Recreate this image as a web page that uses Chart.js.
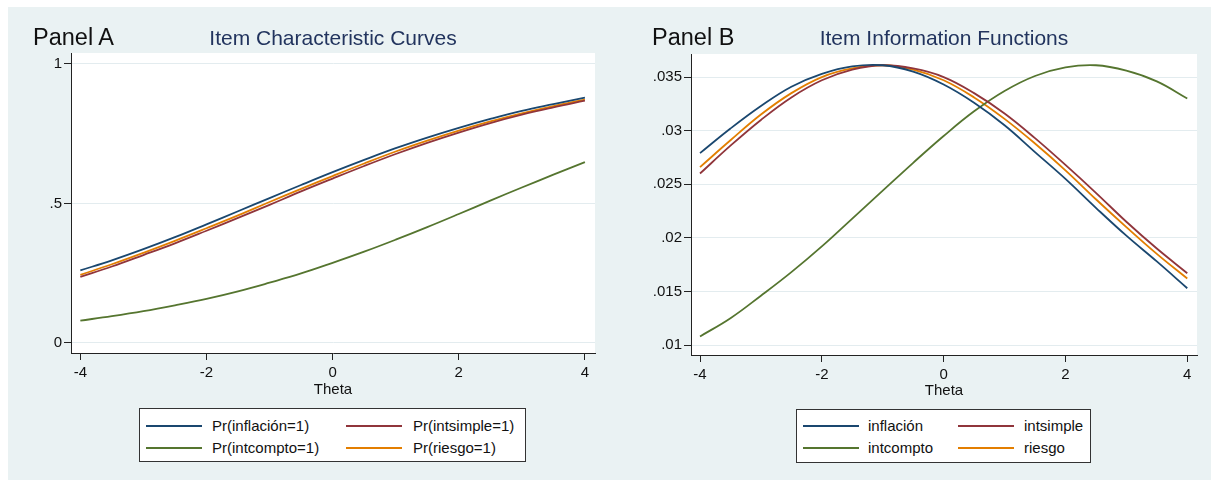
<!DOCTYPE html>
<html>
<head>
<meta charset="utf-8">
<script src="https://cdn.jsdelivr.net/npm/chart.js@4"></script>
<style>
  body { margin:0; background:#fff; font-family:"Liberation Sans", Arial, sans-serif; width:1211px; height:480px; overflow:hidden; }
  #page { position:absolute; left:8px; top:7px; width:1203px; height:473px; background:#EAF2F3; }
  canvas { position:absolute; top:0; }
  .ptitle { position:absolute; font-size:23.5px; color:#111; line-height:26px; white-space:nowrap; }
  .stitle { position:absolute; font-size:21px; color:#22345E; line-height:24px; white-space:nowrap; transform:translateX(-50%); }
  .legend { position:absolute; background:#fff; border:1px solid #333; box-sizing:border-box; }
  .legend span { position:absolute; font-size:15px; line-height:18px; color:#111; white-space:nowrap; }
  .legend i { position:absolute; height:2px; width:56px; }
</style>
</head>
<body>
<div id="page"></div>
<canvas id="chartA" width="605" height="400" style="left:0px"></canvas>
<canvas id="chartB" width="606" height="400" style="left:605px"></canvas>
<div class="ptitle" style="left:33px;top:24px">Panel A</div>
<div class="stitle" style="left:333px;top:26px">Item Characteristic Curves</div>
<div class="ptitle" style="left:652px;top:24px">Panel B</div>
<div class="stitle" style="left:944px;top:26px">Item Information Functions</div>
<div class="legend" id="legA" style="left:139px;top:408px;width:387px;height:54px"></div>
<div class="legend" id="legB" style="left:796px;top:409px;width:295px;height:54px"></div>
<script>
// Theta grid
const theta = [-4,-3.5,-3,-2.5,-2,-1.5,-1,-0.5,0,0.5,1,1.5,2,2.5,3,3.5,4];

// Panel A: item characteristic curves
const iccInflacion = [0.260,0.296,0.336,0.379,0.425,0.472,0.519,0.566,0.612,0.656,0.698,0.736,0.771,0.803,0.832,0.856,0.879];
const iccIntsimple = [0.237,0.274,0.315,0.357,0.402,0.448,0.495,0.543,0.589,0.634,0.677,0.717,0.754,0.788,0.818,0.844,0.868];
const iccIntcompto = [0.080,0.096,0.114,0.135,0.158,0.185,0.216,0.249,0.287,0.327,0.370,0.415,0.462,0.510,0.557,0.603,0.648];
const iccRiesgo    = [0.244,0.282,0.323,0.366,0.411,0.457,0.505,0.552,0.598,0.643,0.686,0.725,0.761,0.794,0.823,0.849,0.872];

// Panel B: item information functions
const iifInflacion = [0.0279,0.0302,0.0323,0.0341,0.0353,0.0360,0.0361,0.0355,0.0343,0.0326,0.0305,0.0280,0.0255,0.0228,0.0202,0.0178,0.0153];
const iifIntsimple = [0.0260,0.0286,0.0310,0.0331,0.0347,0.0357,0.0361,0.0358,0.0350,0.0335,0.0316,0.0293,0.0268,0.0242,0.0215,0.0190,0.0167];
const iifIntcompto = [0.0108,0.0125,0.0146,0.0168,0.0192,0.0218,0.0244,0.0270,0.0295,0.0318,0.0337,0.0351,0.0359,0.0361,0.0356,0.0346,0.0330];
const iifRiesgo    = [0.0266,0.0291,0.0315,0.0335,0.0350,0.0358,0.0361,0.0357,0.0347,0.0331,0.0311,0.0288,0.0263,0.0236,0.0210,0.0185,0.0162];

const items = ['inflación','intsimple','intcompto','riesgo'];
const colors = ['#1A476F','#90353B','#55752F','#E37E00'];

const xTicks = [-4,-2,0,2,4];
const yTicksA = [0,0.5,1];
const yLabelsA = ['0','.5','1'];
const yTicksB = [0.01,0.015,0.02,0.025,0.03,0.035];
const yLabelsB = ['.01','.015','.02','.025','.03','.035'];

const plotBg = {
  id:'plotBg',
  beforeDraw(chart){
    const a = chart.chartArea, ctx = chart.ctx;
    ctx.save();
    ctx.fillStyle = '#fff';
    ctx.fillRect(a.left, a.top, a.right-a.left, a.bottom-a.top);
    ctx.restore();
  }
};

function makeChart(id, series, cfg){
  const datasets = series.map((s,i)=>({
    label: items[i],
    data: theta.map((t,k)=>({x:t, y:s[k]})),
    borderColor: colors[i],
    borderWidth: 1.8,
    pointRadius: 0,
    fill: false,
    tension: 0.4
  }));
  const tickFont = {family:'"Liberation Sans", Arial, sans-serif', size:15};
  return new Chart(document.getElementById(id), {
    type:'line',
    data:{datasets},
    plugins:[plotBg],
    options:{
      responsive:false, animation:false, devicePixelRatio:1,
      layout:{padding:{left:0, top:cfg.top, right:cfg.right, bottom:0}},
      plugins:{legend:{display:false}, tooltip:{enabled:false}},
      scales:{
        x:{
          type:'linear', min:-4.148, max:4.16,
          afterBuildTicks: s => { s.ticks = xTicks.map(v=>({value:v})); },
          afterFit: s => { s.height = cfg.xH; },
          ticks:{font:tickFont, color:'#111', padding:4, maxRotation:0, autoSkip:false},
          grid:{drawOnChartArea:false, drawTicks:true, tickLength:7, tickColor:'#222', tickWidth:1},
          border:{display:true, color:'#222', width:1},
          title:{display:true, text:'Theta', font:tickFont, color:'#111', padding:{top:0,bottom:cfg.tPad}}
        },
        y:{
          type:'linear', min:cfg.yMin, max:cfg.yMax,
          afterBuildTicks: s => { s.ticks = cfg.yTicks.map(v=>({value:v})); },
          afterFit: s => { s.width = cfg.yW; },
          ticks:{font:tickFont, color:'#111', padding:2, autoSkip:false, callback:(v,i)=>cfg.yLabels[i]},
          grid:{drawOnChartArea:true, color:'#E3ECEF', lineWidth:1, drawTicks:true, tickLength:7, tickColor:'#222', tickWidth:1},
          border:{display:true, color:'#222', width:1}
        }
      }
    }
  });
}

makeChart('chartA', [iccInflacion, iccIntsimple, iccIntcompto, iccRiesgo],
  {top:53, right:10, xH:47, tPad:1, yW:71, yMin:-0.036, yMax:1.039, yTicks:yTicksA, yLabels:yLabelsA});
makeChart('chartB', [iifInflacion, iifIntsimple, iifIntcompto, iifRiesgo],
  {top:54, right:14, xH:45, tPad:0, yW:86, yMin:0.00907, yMax:0.03715, yTicks:yTicksB, yLabels:yLabelsB});

// Stata-style two-column legends
function buildLegend(id, labels, pos){
  const box = document.getElementById(id);
  labels.forEach((lab,i)=>{
    const col = i % 2, row = Math.floor(i/2);
    const cy = pos.rows[row];
    const sw = document.createElement('i');
    sw.style.left = pos.sw[col]+'px'; sw.style.top = (cy-1)+'px';
    sw.style.background = colors[i];
    const tx = document.createElement('span');
    tx.textContent = lab;
    tx.style.left = pos.tx[col]+'px'; tx.style.top = (cy-9)+'px';
    box.appendChild(sw); box.appendChild(tx);
  });
}
buildLegend('legA', items.map(n=>'Pr('+n+'=1)'), {sw:[6,206], tx:[72,273], rows:[17,39]});
buildLegend('legB', items, {sw:[6,161], tx:[71,227], rows:[16,38]});
</script>
</body>
</html>
